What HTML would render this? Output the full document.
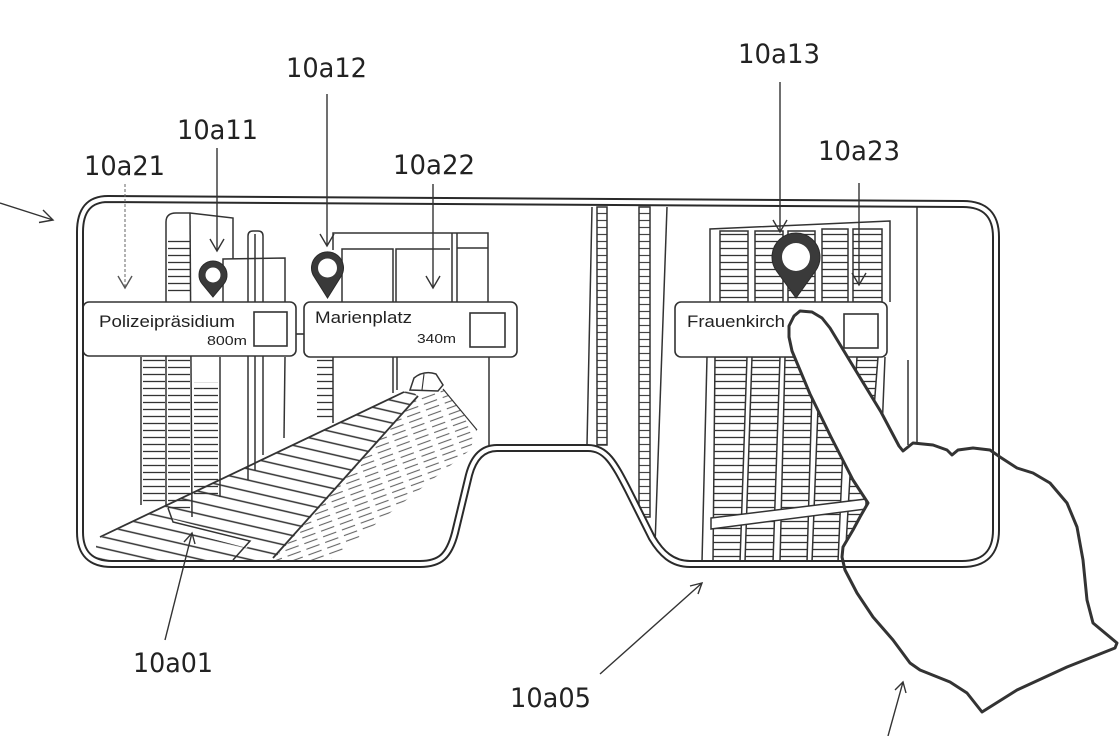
<!DOCTYPE html>
<html><head><meta charset="utf-8"><style>
html,body{margin:0;padding:0;background:#fff;}
svg{display:block;}
text{font-family:"Liberation Sans",sans-serif;fill:#222;}
text.lbl{font-family:"DejaVu Sans","Liberation Sans",sans-serif;}
</style></head><body>
<svg width="1120" height="736" viewBox="0 0 1120 736" xmlns="http://www.w3.org/2000/svg">
<defs>
<pattern id="hz" width="10" height="7" patternUnits="userSpaceOnUse"><line x1="0" y1="3.5" x2="10" y2="3.5" stroke="#333" stroke-width="1.3"/></pattern>
<pattern id="rung" width="10" height="7" patternUnits="userSpaceOnUse"><line x1="0" y1="3.5" x2="10" y2="3.5" stroke="#444" stroke-width="1.2"/></pattern>
<pattern id="lf" width="20" height="11" patternUnits="userSpaceOnUse" patternTransform="rotate(13)"><line x1="0" y1="5" x2="20" y2="5" stroke="#333" stroke-width="1.5"/></pattern>
<pattern id="rf" width="20" height="6" patternUnits="userSpaceOnUse" patternTransform="rotate(-20)"><line x1="0" y1="3" x2="14" y2="3" stroke="#666" stroke-width="1.1"/></pattern>
</defs>
<rect width="1120" height="736" fill="#fff"/>

<g stroke="#333" stroke-width="1.5" fill="none">
<!-- LEFT LENS BUILDINGS -->
<path d="M166,505 L166,222 Q166,213 176,213 L190,213 L233,218 L233,259"/>
<line x1="190" y1="213" x2="192" y2="517"/>
<rect x="168" y="239" width="22" height="54" fill="url(#hz)" stroke="none"/>
<path d="M223,302 L223,259 L285,258 L285,302"/>
<path d="M248,480 L248,236 Q248,231 253,231 L258,231 Q263,231 263,236 L263,455"/>
<line x1="255" y1="234" x2="255" y2="470"/>
<line x1="285" y1="357" x2="284" y2="438"/>
<!-- below box left -->
<line x1="141" y1="357" x2="141" y2="505"/>
<rect x="143" y="359" width="22" height="146" fill="url(#hz)" stroke="none"/>
<rect x="168" y="359" width="22" height="152" fill="url(#hz)" stroke="none"/>
<rect x="194" y="382" width="24" height="115" fill="url(#hz)" stroke="none"/>
<line x1="220" y1="357" x2="220" y2="497"/>
<!-- Marienplatz building -->
<path d="M333,250 L333,233 L488,233 L488,302"/>
<path d="M342,302 L342,249 L393,249 L393,302"/>
<path d="M396,302 L396,249 L450,249"/>
<line x1="452" y1="233" x2="452" y2="302"/>
<line x1="457" y1="233" x2="457" y2="302"/>
<line x1="457" y1="248" x2="488" y2="248"/>
<line x1="393" y1="357" x2="393" y2="393"/>
<line x1="397" y1="357" x2="397" y2="390"/>
<rect x="317" y="359" width="16" height="62" fill="url(#hz)" stroke="none"/>
<line x1="333" y1="357" x2="333" y2="423"/>
<line x1="489" y1="357" x2="489" y2="445"/>

<!-- pyramid / road -->
<polygon points="96,540 403,392 412,390 418,397 273,560 96,560" fill="url(#lf)" stroke="none"/>
<polygon points="273,560 418,397 443,388 477,430 470,450 330,560" fill="url(#rf)" stroke="none"/>
<line x1="100" y1="537" x2="404" y2="392" stroke-width="1.8"/>
<line x1="418" y1="396" x2="273" y2="558" stroke-width="1.8"/>
<line x1="443" y1="389" x2="477" y2="430" stroke-width="1.2"/>
<path d="M410,390 L414,378 Q424,370 436,374 L443,385 L438,391 Z" fill="#fff"/>
<line x1="424" y1="374" x2="422" y2="390" stroke-width="1.1"/>
<polygon points="172,519 250,540 247,548 171,528" fill="#fff" stroke="none"/>
<path d="M168,508 L173,522 L250,541 L233,560" fill="none"/>

<!-- MIDDLE STRIPS -->
<line x1="592" y1="207" x2="587" y2="445"/>
<rect x="597" y="207" width="10" height="238" fill="url(#rung)"/>
<rect x="639" y="207" width="11" height="310" fill="url(#rung)"/>
<line x1="667" y1="207" x2="655" y2="545"/>

<!-- RIGHT LENS BUILDING -->
<path d="M710,302 L710,229 L890,221 L890,302"/>
<rect x="720" y="231" width="28" height="71" fill="url(#hz)"/>
<rect x="755" y="231" width="28" height="71" fill="url(#hz)"/>
<rect x="788" y="231" width="27" height="71" fill="url(#hz)"/>
<rect x="822" y="229" width="26" height="73" fill="url(#hz)"/>
<rect x="853" y="229" width="29" height="73" fill="url(#hz)"/>
<polygon points="715,357 747,357 740,562 713,562" fill="url(#hz)"/>
<polygon points="752,357 780,357 773,562 745,562" fill="url(#hz)"/>
<polygon points="785,357 813,357 807,562 780,562" fill="url(#hz)"/>
<polygon points="820,357 847,357 838,562 812,562" fill="url(#hz)"/>
<polygon points="857,357 878,357 862,562 845,562" fill="url(#hz)"/>
<line x1="707" y1="357" x2="702" y2="562"/>
<line x1="885" y1="357" x2="880" y2="480"/>
<polygon points="711,518 866,499 866,509 711,529" fill="#fff"/>
<line x1="917" y1="207" x2="917" y2="446"/>
<line x1="908" y1="360" x2="908" y2="445"/>
</g>

<!-- INFO BOXES -->
<g stroke="#333" stroke-width="1.6" fill="#fff">
<line x1="296" y1="334" x2="304" y2="334"/>
<rect x="83" y="302" width="213" height="54" rx="6"/>
<rect x="254" y="312" width="33" height="34"/>
<rect x="304" y="302" width="213" height="55" rx="6"/>
<rect x="470" y="313" width="35" height="34"/>
<rect x="675" y="302" width="212" height="55" rx="6"/>
<rect x="844" y="314" width="34" height="34"/>
</g>
<text x="99" y="327" font-size="17" textLength="136" lengthAdjust="spacingAndGlyphs">Polizeipräsidium</text>
<text x="207" y="345" font-size="13" textLength="40" lengthAdjust="spacingAndGlyphs">800m</text>
<text x="315" y="323" font-size="17" textLength="97" lengthAdjust="spacingAndGlyphs">Marienplatz</text>
<text x="417" y="343" font-size="13" textLength="39" lengthAdjust="spacingAndGlyphs">340m</text>
<text x="687" y="327" font-size="17" textLength="98" lengthAdjust="spacingAndGlyphs">Frauenkirch</text>

<!-- PINS -->
<g fill="#3a3a3a" stroke="#2a2a2a" stroke-width="1">
<path d="M213,297 L202.2,283.9 A14,14 0 1 1 223.8,283.9 Z"/>
<path d="M327.5,298 L314,276.5 A16,16 0 1 1 341,276.5 Z"/>
<path d="M796,298 L776.5,271 A24,24 0 1 1 815.5,271 Z"/>
</g>
<g fill="#fff" stroke="none">
<circle cx="213" cy="275" r="7.5"/>
<circle cx="327.5" cy="268" r="9.5"/>
<circle cx="796" cy="257" r="14"/>
</g>

<!-- HAND fill -->
<path d="M800,311 L812,312 L822,318 L830,328 L853,366 L881,412 L899,446 L903,451 L913,443 L933,445 L947,450 L952,455 L958,450 L973,448 L990,450 L1000,457 L1017,468 L1033,473 L1050,483 L1067,503 L1077,527 L1083,560 L1087,600 L1093,623 L1117,643 L1115,648 L1067,667 L1017,690 L982,712 L967,693 L950,682 L920,670 L910,663 L893,640 L873,617 L857,593 L845,570 L842,557 L843,547 L853,530 L860,517 L868,503 L853,480 L831,437 L810,394 L792,351 L789,337 L789,326 L794,316 Z" fill="#fff" stroke="none"/>

<!-- FRAME -->
<path d="M108,199 L963,204 Q996,204 996,237 L996,530 Q996,564 962,564 L690,564 C672,564 661,553 652,538 L628,490 C614,463 606,448 588,448 L497,448 C481,448 473,460 469,475 L455,533 C449,556 440,564 420,564 L112,564 Q80,564 80,532 L80,232 Q80,199 108,199 Z" fill="none" stroke="#2a2a2a" stroke-width="8" stroke-linejoin="round"/>
<path d="M108,199 L963,204 Q996,204 996,237 L996,530 Q996,564 962,564 L690,564 C672,564 661,553 652,538 L628,490 C614,463 606,448 588,448 L497,448 C481,448 473,460 469,475 L455,533 C449,556 440,564 420,564 L112,564 Q80,564 80,532 L80,232 Q80,199 108,199 Z" fill="none" stroke="#fff" stroke-width="4" stroke-linejoin="round"/>

<!-- HAND outline -->
<path d="M800,311 L812,312 L822,318 L830,328 L853,366 L881,412 L899,446 L903,451 L913,443 L933,445 L947,450 L952,455 L958,450 L973,448 L990,450 L1000,457 L1017,468 L1033,473 L1050,483 L1067,503 L1077,527 L1083,560 L1087,600 L1093,623 L1117,643 L1115,648 L1067,667 L1017,690 L982,712 L967,693 L950,682 L920,670 L910,663 L893,640 L873,617 L857,593 L845,570 L842,557 L843,547 L853,530 L860,517 L868,503 L853,480 L831,437 L810,394 L792,351 L789,337 L789,326 L794,316 Z" fill="none" stroke="#333" stroke-width="3" stroke-linejoin="round"/>

<!-- LEADERS -->
<g stroke="#333" stroke-width="1.4" fill="none">
<line x1="125" y1="184" x2="125" y2="287" stroke="#666" stroke-width="1" stroke-dasharray="3 2"/>
<path d="M118,276 L125,288 L132,276" stroke="#555"/>
<line x1="217" y1="148" x2="217" y2="250"/>
<path d="M210,239 L217,251 L224,239"/>
<line x1="327" y1="94" x2="327" y2="245"/>
<path d="M320,234 L327,246 L334,234"/>
<line x1="433" y1="184" x2="433" y2="287"/>
<path d="M426,276 L433,288 L440,276"/>
<line x1="780" y1="82" x2="780" y2="231"/>
<path d="M773,220 L780,232 L787,220"/>
<line x1="859" y1="183" x2="859" y2="284"/>
<path d="M852,273 L859,285 L866,273"/>
<line x1="0" y1="203" x2="53" y2="220"/>
<path d="M43,210 L53,220 L39,222.5"/>
<line x1="165" y1="640" x2="192" y2="533"/>
<path d="M184,542 L192,533 L195,544"/>
<line x1="600" y1="674" x2="702" y2="583"/>
<path d="M690,586 L702,583 L698,594"/>
<line x1="888" y1="736" x2="903" y2="682"/>
<path d="M895,690 L903,682 L906,693"/>
</g>

<!-- LABELS -->
<g font-size="27">
<text class="lbl" x="84" y="175" textLength="81" lengthAdjust="spacingAndGlyphs">10a21</text>
<text class="lbl" x="177" y="139" textLength="81" lengthAdjust="spacingAndGlyphs">10a11</text>
<text class="lbl" x="286" y="77" textLength="81" lengthAdjust="spacingAndGlyphs">10a12</text>
<text class="lbl" x="393" y="174" textLength="82" lengthAdjust="spacingAndGlyphs">10a22</text>
<text class="lbl" x="738" y="63" textLength="82" lengthAdjust="spacingAndGlyphs">10a13</text>
<text class="lbl" x="818" y="160" textLength="82" lengthAdjust="spacingAndGlyphs">10a23</text>
<text class="lbl" x="133" y="672" textLength="80" lengthAdjust="spacingAndGlyphs">10a01</text>
<text class="lbl" x="510" y="707" textLength="81" lengthAdjust="spacingAndGlyphs">10a05</text>
</g>
</svg>
</body></html>
